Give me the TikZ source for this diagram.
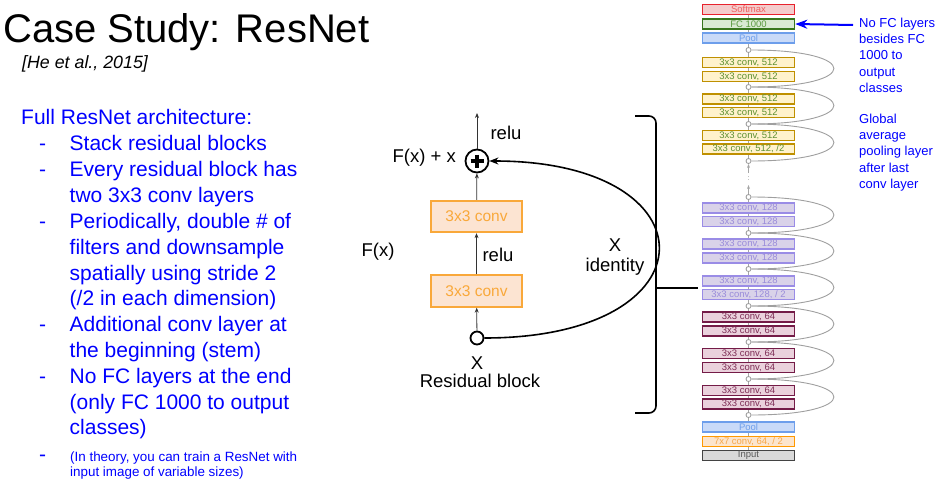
\documentclass[tikz,border=0pt]{standalone}
\usepackage{fontspec}
\setmainfont{Liberation Sans}
\usepackage{tikz}
\usetikzlibrary{arrows.meta,calc,backgrounds}
\usepackage{xcolor}
\definecolor{slideblue}{HTML}{0000FF}
\definecolor{convorange}{HTML}{F9A83A}
\definecolor{convfill}{HTML}{FCE4D2}
\definecolor{softdraw}{HTML}{E8222D}
\definecolor{softfill}{HTML}{F4CCCC}
\definecolor{softtext}{HTML}{EE6060}
\definecolor{fcdraw}{HTML}{38761D}
\definecolor{fcfill}{HTML}{D9EAD3}
\definecolor{fctext}{HTML}{5A9A40}
\definecolor{pooldraw}{HTML}{6D9EEB}
\definecolor{poolfill}{HTML}{C9DAF8}
\definecolor{draw512}{HTML}{BF9000}
\definecolor{fill512}{HTML}{FFF2CC}
\definecolor{text512}{HTML}{5E9032}
\definecolor{draw128}{HTML}{9A8CE6}
\definecolor{fill128}{HTML}{D9D2E9}
\definecolor{text128}{HTML}{9A8CDA}
\definecolor{draw64}{HTML}{741B47}
\definecolor{fill64}{HTML}{EAD1DC}
\definecolor{text64}{HTML}{7E2E56}
\definecolor{stemdraw}{HTML}{FF9900}
\definecolor{stemfill}{HTML}{FCE5CD}
\definecolor{stemtext}{HTML}{F6A84B}
\definecolor{inputdraw}{HTML}{434343}
\definecolor{inputfill}{HTML}{D9D9D9}
\definecolor{inputtext}{HTML}{5A5A5A}

\tikzset{
  listtext/.style={anchor=base west, inner sep=0, text=slideblue, font=\fontsize{21}{26}\selectfont},
  smalltext/.style={anchor=base west, inner sep=0, text=slideblue, font=\fontsize{13.4}{15}\selectfont},
  note/.style={align=left, anchor=north west, inner sep=0, text=slideblue, font=\fontsize{13}{16.2}\selectfont},
  blocklabel/.style={inner sep=0, font=\fontsize{18.5}{22}\selectfont},
  convbox/.style={draw=convorange, fill=convfill, text=convorange, line width=1.8,
    minimum width=91.5, minimum height=31.5, inner sep=0, font=\fontsize{15.5}{18}\selectfont},
  flow/.style={draw=black!80, line width=0.8, -{Stealth[length=5pt,width=4pt]}},
  stackbox/.style={draw, line width=1.6, minimum width=92, minimum height=10, inner sep=0, font=\fontsize{9.5}{9.5}\selectfont},
  softbox/.style={stackbox, draw=softdraw, fill=softfill, text=softtext},
  fcbox/.style={stackbox, draw=fcdraw, fill=fcfill, text=fctext},
  poolbox/.style={stackbox, draw=pooldraw, fill=poolfill, text=pooldraw},
  conv512/.style={stackbox, draw=draw512, fill=fill512, text=text512},
  conv128/.style={stackbox, draw=draw128, fill=fill128, text=text128},
  conv64/.style={stackbox, draw=draw64, fill=fill64, text=text64},
  stembox/.style={stackbox, draw=stemdraw, fill=stemfill, text=stemtext},
  inputbox/.style={stackbox, draw=inputdraw, fill=inputfill, text=inputtext},
  junction/.style={circle, draw=gray!80, fill=white, line width=0.8, minimum size=5, inner sep=0},
  stackline/.style={draw=gray!70, line width=0.8},
  skiparc/.style={draw=gray!75, line width=0.9},
}

\begin{document}
\begin{tikzpicture}[x=1pt, y=-1pt, >=Stealth]
    \useasboundingbox (0,0) rectangle (942,485);

    % Title
    \node[anchor=base west, inner sep=0, font=\fontsize{40}{48}\selectfont] (title) at (3,42.5) {Case Study: ResNet};
    \node[anchor=base west, inner sep=0, font=\itshape\fontsize{17.8}{20}\selectfont] (cite) at (22,68) {[He et al., 2015]};

    % Bullet list
    \node[listtext] (head) at (21,124) {Full ResNet architecture:};
    \foreach \yb [count=\i] in {150,176,228,331,383,461}
        \node[listtext] (dash\i) at (39,\yb) {-};
    \foreach \yb/\txt [count=\i] in {150/{Stack residual blocks}, 176/{Every residual block has},
        202/{two 3x3 conv layers}, 228/{Periodically, double \# of}, 254/{filters and downsample},
        280/{spatially using stride 2}, 305/{(/2 in each dimension)}, 331/{Additional conv layer at},
        357/{the beginning (stem)}, 383/{No FC layers at the end}, 409/{(only FC 1000 to output},
        434/{classes)}}
        \node[listtext] (line\i) at (69.5,\yb) {\txt};
    \node[smalltext] (small1) at (70,461.5) {(In theory, you can train a ResNet with};
    \node[smalltext] (small2) at (70,476.5) {input image of variable sizes)};

    % Residual block
    \node[convbox] (convtop) at (476.5,216.5) {3x3 conv};
    \node[convbox] (convbot) at (476.5,291) {3x3 conv};
    \node[circle, draw, line width=1.8, minimum size=23, inner sep=0] (plus) at (477,161) {};
    \draw[line width=3.4] ($(plus)+(-6.5,0)$) -- ($(plus)+(6.5,0)$);
    \draw[line width=3.4] ($(plus)+(0,-6.5)$) -- ($(plus)+(0,6.5)$);
    \node[circle, draw, fill=white, line width=1.8, minimum size=13, inner sep=0] (xin) at (477,338) {};
    \coordinate (out) at (477,113);

    \draw[flow] (xin) -- (convbot);
    \draw[flow] (convbot) -- (convtop);
    \draw[flow] (convtop) -- (plus);
    \draw[flow] (plus) -- (out);
    \draw[line width=1.6, -{Stealth[length=9pt,width=7pt]}] (xin.east) .. controls +(232,0) and +(226,0) .. (plus.east);

    % Labels
    \node[blocklabel, anchor=east] (sumlabel) at (456,158) {F(x) + x};
    \node[blocklabel] (relutop) at (506,133) {relu};
    \node[blocklabel] (relumid) at (498,255) {relu};
    \node[blocklabel] (fxlabel) at (378,252) {F(x)};
    \node[blocklabel] (xid) at (615,245) {X};
    \node[blocklabel] (idlabel) at (615,267) {identity};
    \node[blocklabel] (xlabel) at (477,363) {X};
    \node[blocklabel] (caption) at (480,381) {Residual block};

    % Bracket
    \coordinate (braceTop) at (635,116);
    \coordinate (braceBot) at (635,413);
    \coordinate (braceMid) at (656,288);
    \coordinate (stackIn) at (698,288);
    \draw[line width=1.6, rounded corners=7] (braceTop) -- (656,116) -- (656,413) -- (braceBot);
    \draw[line width=1.6] (braceMid) -- (stackIn);

    % Full stack
    \node[softbox] (softmax) at (748.5,9.5) {Softmax};
    \node[fcbox] (fc) at (748.5,24) {FC 1000};
    \node[poolbox] (pooltop) at (748.5,38) {Pool};
    \foreach \y [count=\i] in {62.5,76.5,99,112.5,135.5}
        \node[conv512] (y\i) at (748.5,\y) {3x3 conv, 512};
    \node[conv512] (y6) at (748.5,149) {3x3 conv, 512, /2};
    \foreach \y [count=\i] in {208,221.5,244,258,281}
        \node[conv128] (p\i) at (748.5,\y) {3x3 conv, 128};
    \node[conv128] (p6) at (748.5,294.5) {3x3 conv, 128, / 2};
    \foreach \y [count=\i] in {317,331,353.5,367.5,390.5,404}
        \node[conv64] (m\i) at (748.5,\y) {3x3 conv, 64};
    \node[poolbox] (poolbot) at (748.5,427) {Pool};
    \node[stembox] (stem) at (748.5,441.5) {7x7 conv, 64, / 2};
    \node[inputbox] (input) at (748.5,455.5) {Input};
    \foreach \y [count=\i] in {50,87,124,161,197,233,269,306,342,379,415}
        \node[junction] (j\i) at (748.5,\y) {};

    % Gap between stages
    \coordinate (gaplow) at (748.5,185);
    \coordinate (gapstart) at (748.5,173);
    \node[inner sep=0, text=gray, font=\fontsize{7}{7}\selectfont] (gapdots) at (748.5,178.5) {:};
    \draw[stackline, -{Stealth[length=4pt,width=3pt]}] (j5) -- (gaplow);
    \draw[stackline, -{Stealth[length=4pt,width=3pt]}] (gapstart) -- (j4);

    % Skip connections
    \begin{scope}[on background layer]
        \draw[stackline] (input) -- (j5);
        \draw[stackline] (j4) -- (softmax);
        \foreach \a/\b in {1/2,2/3,3/4,5/6,6/7,7/8,8/9,9/10,10/11}
            \draw[skiparc] (j\a.east) .. controls +(110,0) and +(110,0) .. (j\b.east);
    \end{scope}

    % Notes
    \node[note] (note1) at (859,17.8) {No FC layers\\besides FC\\1000 to\\output\\classes};
    \node[note] (note2) at (859,113.8) {Global\\average\\pooling layer\\after last\\conv layer};
    \coordinate (notetail) at (853,25);
    \draw[slideblue, line width=2, -{Stealth[length=12pt,width=9pt]}] (notetail) -- (fc.east);
\end{tikzpicture}
\end{document}
